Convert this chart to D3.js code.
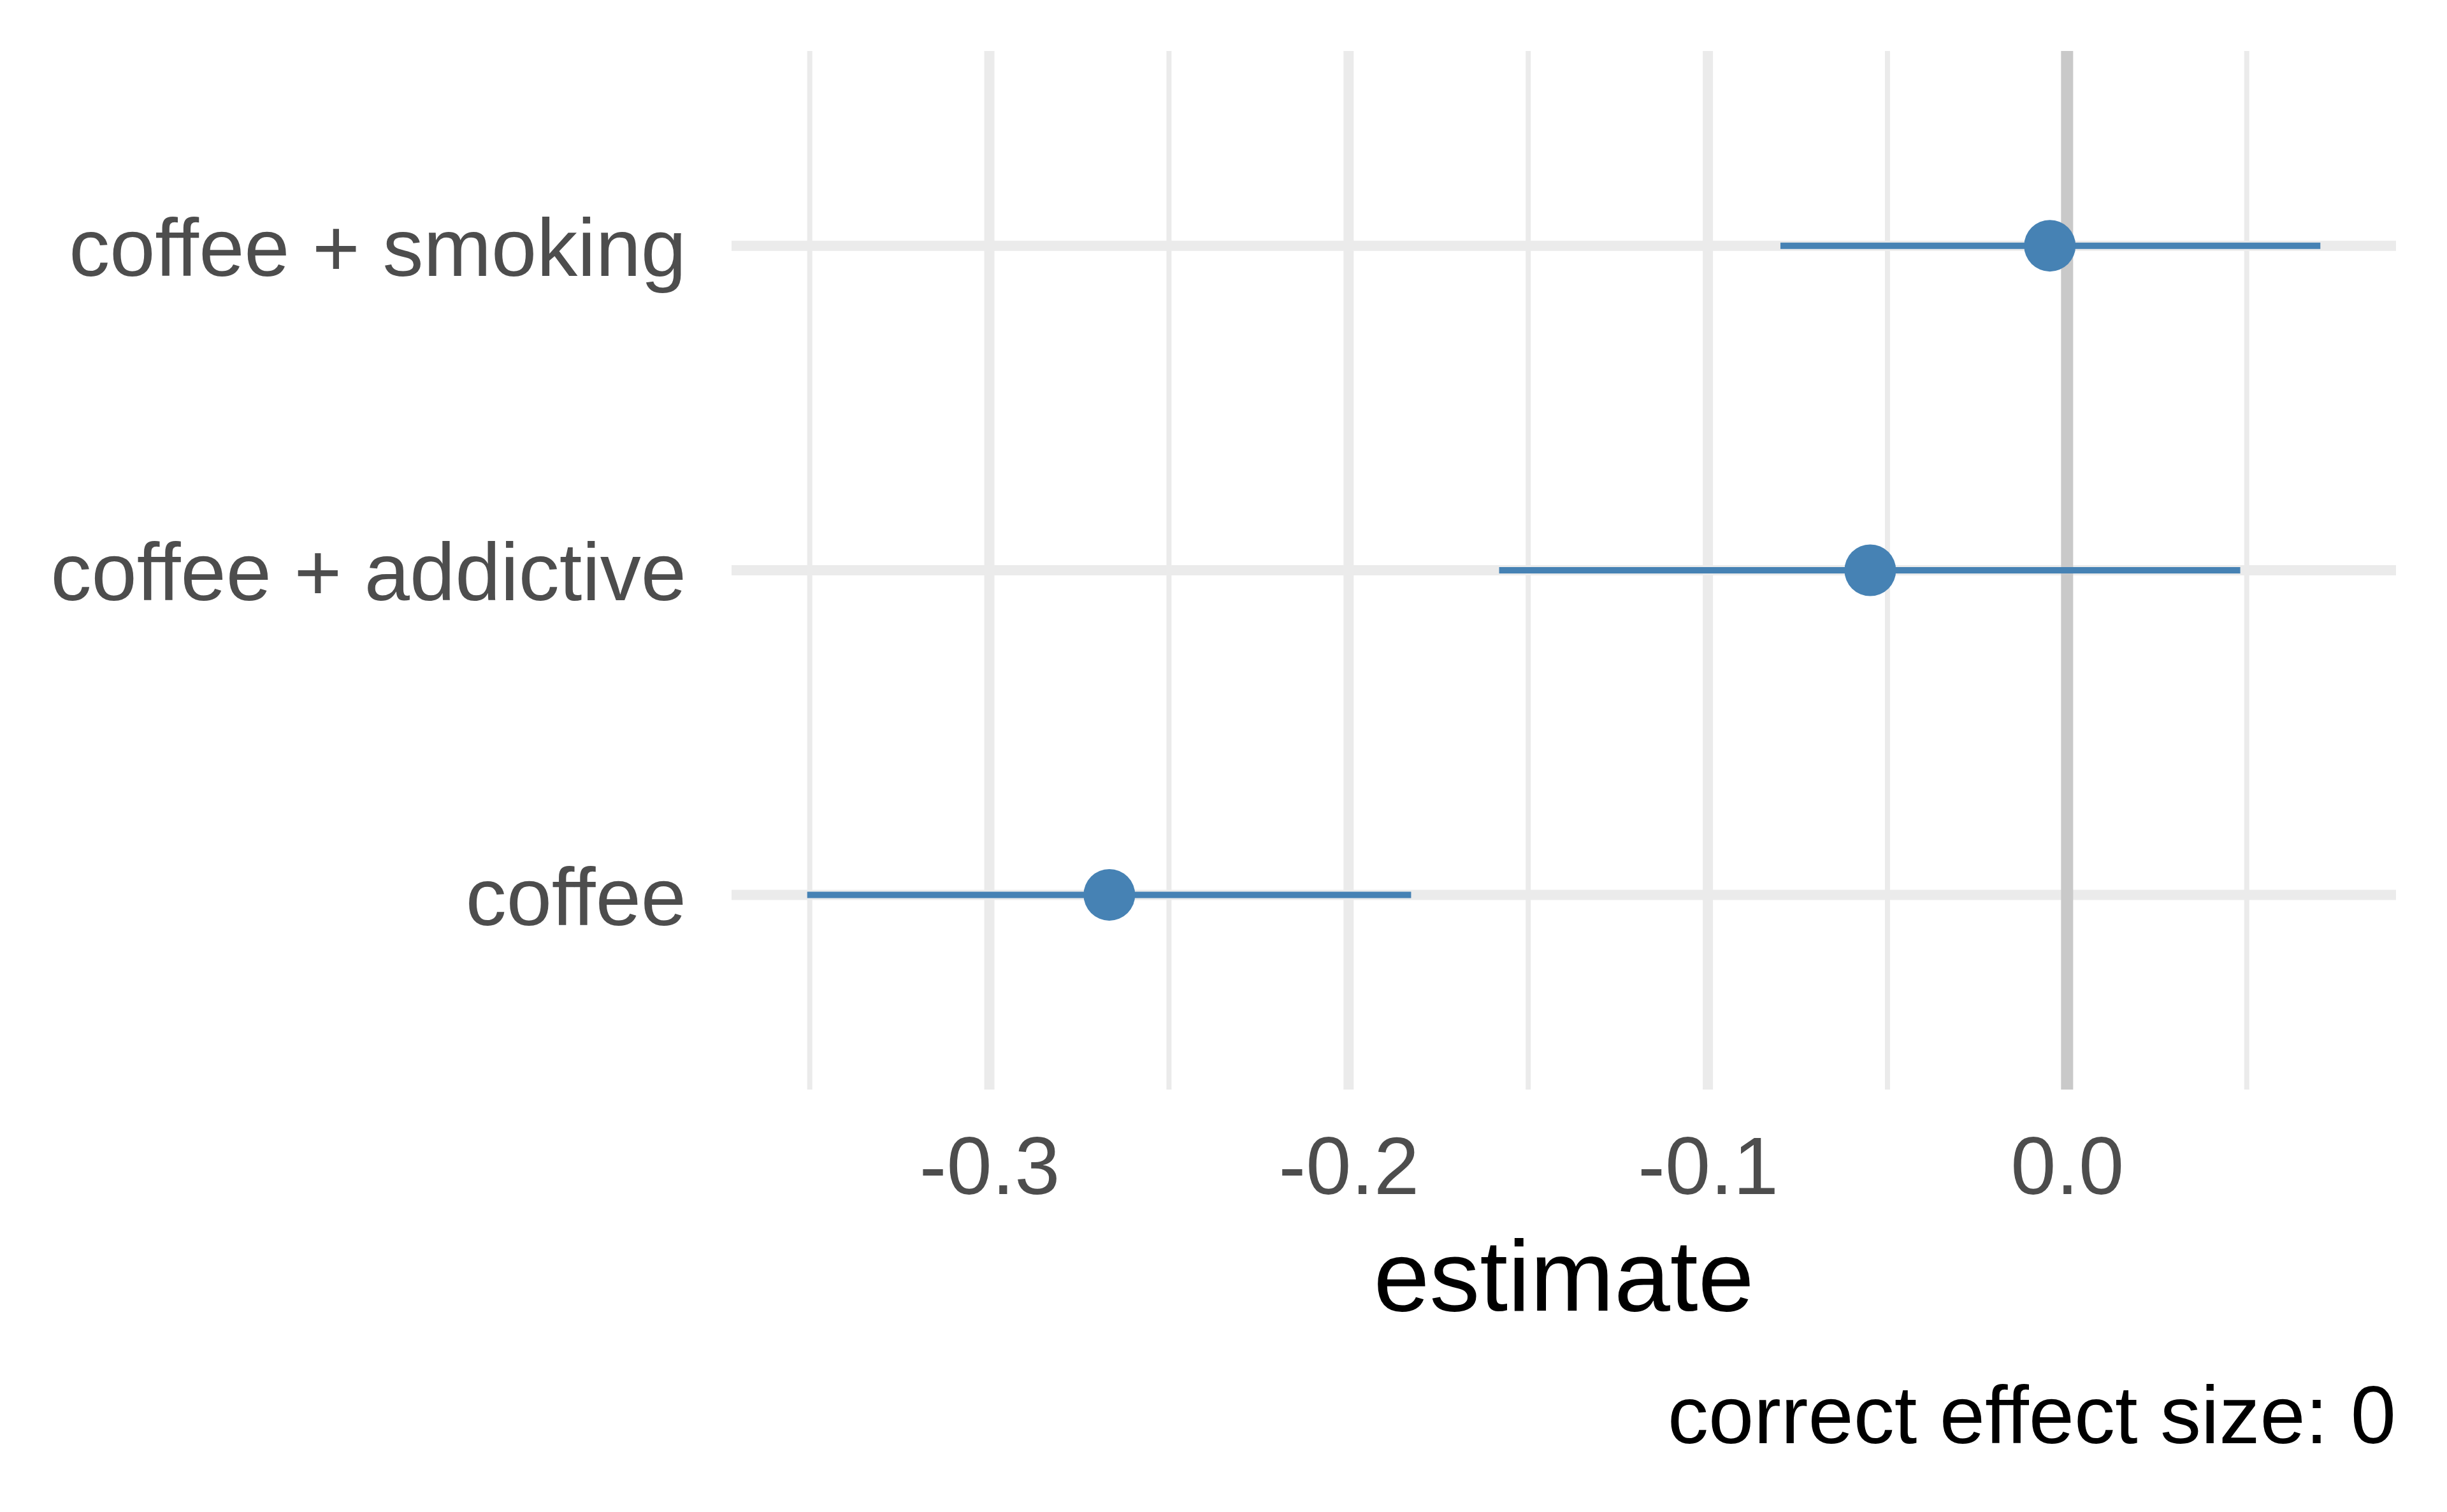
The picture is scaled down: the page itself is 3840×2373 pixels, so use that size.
<!DOCTYPE html>
<html>
<head>
<meta charset="utf-8">
<script src="https://cdn.jsdelivr.net/npm/d3@7"></script>
<style>
  html, body { margin: 0; padding: 0; background: #ffffff; }
  svg { display: block; }
</style>
</head>
<body>
<svg id="chart" width="3840" height="2373"></svg>
<script>
// ---- data ----
const terms     = ["coffee", "coffee + addictive", "coffee + smoking"];
const estimates = [-0.2666, -0.0548, -0.0048];
const lower     = [-0.3507, -0.1581, -0.0798];
const upper     = [-0.1826,  0.0482,  0.0705];
const majorTicks = [-0.3, -0.2, -0.1, 0.0];
const minorTicks = [-0.35, -0.25, -0.15, -0.05, 0.05];
const referenceValue = 0;
const xTitle = "estimate";
const captionText = "correct effect size: 0";

const rows = terms.map((t, i) => ({ term: t, est: estimates[i], lo: lower[i], hi: upper[i] }));

// ---- layout ----
const W = 3840, H = 2373;
const panel = { left: 1148, right: 3760, top: 80, bottom: 1710 };
const font = "'Liberation Sans', Arial, Helvetica, sans-serif";

const svg = d3.select("#chart");
svg.append("rect").attr("width", W).attr("height", H).attr("fill", "#ffffff");

// x scale with ggplot-style 5% expansion
const dmin = d3.min(lower), dmax = d3.max(upper);
const pad = (dmax - dmin) * 0.05;
const x = d3.scaleLinear().domain([dmin - pad, dmax + pad]).range([panel.left, panel.right]);
const y = d3.scalePoint().domain(terms).range([panel.bottom, panel.top]).padding(0.6);

// grid: minor vertical
const grid = svg.append("g");
grid.selectAll("line.minor").data(minorTicks).join("line")
  .attr("x1", d => x(d)).attr("x2", d => x(d))
  .attr("y1", panel.top).attr("y2", panel.bottom)
  .attr("stroke", "#ebebeb").attr("stroke-width", 8);
// major vertical
grid.selectAll("line.major").data(majorTicks).join("line")
  .attr("x1", d => x(d)).attr("x2", d => x(d))
  .attr("y1", panel.top).attr("y2", panel.bottom)
  .attr("stroke", "#ebebeb").attr("stroke-width", 16);
// major horizontal
grid.selectAll("line.h").data(terms).join("line")
  .attr("x1", panel.left).attr("x2", panel.right)
  .attr("y1", d => y(d)).attr("y2", d => y(d))
  .attr("stroke", "#ebebeb").attr("stroke-width", 16);

// reference line
svg.append("line")
  .attr("x1", x(referenceValue)).attr("x2", x(referenceValue))
  .attr("y1", panel.top).attr("y2", panel.bottom)
  .attr("stroke", "#c9c9c9").attr("stroke-width", 19);

// error bars
svg.append("g").selectAll("line").data(rows).join("line")
  .attr("x1", d => x(d.lo)).attr("x2", d => x(d.hi))
  .attr("y1", d => y(d.term)).attr("y2", d => y(d.term))
  .attr("stroke", "#4682b4").attr("stroke-width", 10);

// points
svg.append("g").selectAll("circle").data(rows).join("circle")
  .attr("cx", d => x(d.est)).attr("cy", d => y(d.term))
  .attr("r", 40.5).attr("fill", "#4682b4");

// x axis (labels only)
const xAxis = d3.axisBottom(x).tickValues(majorTicks).tickSize(0).tickPadding(0)
  .tickFormat(d => d.toFixed(1));
const gx = svg.append("g").attr("transform", `translate(0,${panel.bottom})`).call(xAxis);
gx.select(".domain").remove();
gx.selectAll("text")
  .attr("y", 164).attr("dy", null)
  .attr("font-family", font).attr("font-size", 128).attr("fill", "#4d4d4d");

// y axis (labels only)
const yAxis = d3.axisLeft(y).tickSize(0).tickPadding(0);
const gy = svg.append("g").attr("transform", `translate(1077,0)`).call(yAxis);
gy.select(".domain").remove();
gy.selectAll("text")
  .attr("x", 0).attr("dy", null).attr("y", 46.7)
  .attr("text-anchor", "end")
  .attr("font-family", font).attr("font-size", 128).attr("fill", "#4d4d4d");

// x title
svg.append("text")
  .attr("x", (panel.left + panel.right) / 2).attr("y", 2057)
  .attr("text-anchor", "middle")
  .attr("font-family", font).attr("font-size", 158).attr("fill", "#000000")
  .text(xTitle);

// caption
svg.append("text")
  .attr("x", panel.right).attr("y", 2265)
  .attr("text-anchor", "end")
  .attr("font-family", font).attr("font-size", 128).attr("fill", "#000000")
  .text(captionText);
</script>
</body>
</html>
